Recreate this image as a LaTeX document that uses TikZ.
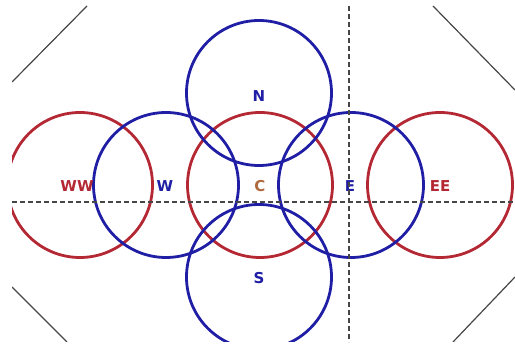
\documentclass[tikz,border=0pt]{standalone}
\usepackage{fontspec}
\setmainfont{DejaVu Sans}
\begin{document}
\begin{tikzpicture}[x=1pt,y=-1pt,
  bluec/.style={draw=cblue,line width=2.8pt,circle,minimum size=145pt,inner sep=0pt},
  redc/.style={draw=cred,line width=2.8pt,circle,minimum size=145pt,inner sep=0pt},
  lbl/.style={font=\bfseries\fontsize{15}{17}\selectfont,inner sep=0pt},
  axis/.style={draw=cgray,line width=1.5pt,dash pattern=on 5pt off 3pt},
  diag/.style={draw=cgray,line width=1.2pt}]
\definecolor{cblue}{RGB}{32,30,165}
\definecolor{cred}{RGB}{180,40,52}
\definecolor{cgray}{RGB}{70,70,70}
\definecolor{corange}{RGB}{175,105,60}
\useasboundingbox (0,0) rectangle (515,344);
\begin{scope}
\clip (12,6) rectangle (515,342);
\coordinate (d1a) at (12,82); \coordinate (d1b) at (87,6);
\coordinate (d2a) at (433,6); \coordinate (d2b) at (515,90);
\coordinate (d3a) at (12,287); \coordinate (d3b) at (67,342);
\coordinate (d4a) at (453,342); \coordinate (d4b) at (515,277);
\draw[diag] (d1a) -- (d1b);
\draw[diag] (d2a) -- (d2b);
\draw[diag] (d3a) -- (d3b);
\draw[diag] (d4a) -- (d4b);
\node[redc] (ww) at (80,185) {};
\node[redc] (ee) at (440,185) {};
\node[redc] (c) at (260,185) {};
\node[bluec] (w) at (166,185) {};
\node[bluec] (e) at (351,185) {};
\node[bluec] (n) at (259,93) {};
\node[bluec] (s) at (259,277) {};
\end{scope}
\node[lbl,text=cred] (lww) at (77,186) {WW};
\node[lbl,text=cblue] (lw) at (165,186) {W};
\node[lbl,text=corange] (lc) at (260,186) {C};
\node[lbl,text=cblue] (le) at (350,186) {E};
\node[lbl,text=cred] (lee) at (440,186) {EE};
\node[lbl,text=cblue] (ln) at (259,96) {N};
\node[lbl,text=cblue] (ls) at (259,278) {S};
\coordinate (hl) at (12,202);
\coordinate (hr) at (515,202);
\coordinate (vt) at (349,6);
\coordinate (vb) at (349,342);
\draw[axis] (hl) -- (hr);
\draw[axis] (vt) -- (vb);
\end{tikzpicture}
\end{document}
